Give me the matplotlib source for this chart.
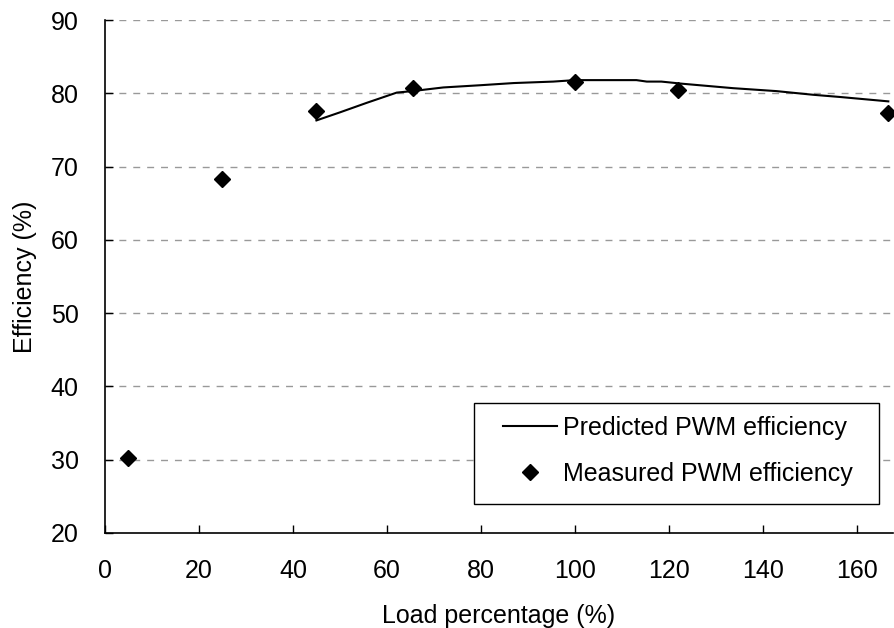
import matplotlib
matplotlib.use("Agg")
import matplotlib.pyplot as plt
import matplotlib.patches as patches

plt.rcParams['font.family'] = ['Liberation Sans', 'DejaVu Sans']

# predicted curve (load %, efficiency %)
pred_load = [45.0, 50.0, 55.7, 62.1, 65.4, 72.0, 79.8, 87.0, 95.4, 100.0,
             113.1, 115.3, 118.4, 123.0, 133.7, 142.9, 150.7, 156.4, 166.7]
pred_eff = [76.3, 77.4, 78.7, 80.1, 80.3, 80.8, 81.1, 81.4, 81.6, 81.8,
            81.8, 81.6, 81.6, 81.3, 80.7, 80.3, 79.8, 79.5, 78.9]

# measured points
meas_load = [5, 25, 45, 65.5, 100, 122, 166.7]
meas_eff = [30.2, 68.3, 77.6, 80.7, 81.5, 80.5, 77.3]

xticks = [0, 20, 40, 60, 80, 100, 120, 140, 160]
yticks = [20, 30, 40, 50, 60, 70, 80, 90]

fig = plt.figure(figsize=(8.94, 6.28), dpi=100)
ax = fig.add_axes([0.1174, 0.1513, 0.8815, 0.8168])

# grid lines
for yv in yticks[1:]:
    ax.axhline(yv, color='#999999', lw=1.0, dashes=(5, 5), zorder=0)

ax.plot(pred_load, pred_eff, color='black', lw=1.5, label='Predicted PWM efficiency')
ax.plot(meas_load, meas_eff, ls='none', marker='D', ms=8.5, color='black',
        clip_on=False, label='Measured PWM efficiency')

ax.set_xlim(0, 167.7)
ax.set_ylim(20, 90)
ax.set_xticks(xticks)
ax.set_yticks(yticks)
ax.tick_params(direction='in', length=6, width=1, labelsize=18, pad=19)
ax.spines['top'].set_visible(False)
ax.spines['right'].set_visible(False)
ax.spines['left'].set_linewidth(1.2)
ax.spines['bottom'].set_linewidth(1.2)

ax.set_xlabel('Load percentage (%)', fontsize=18, labelpad=15)
ax.set_ylabel('Efficiency (%)', fontsize=18, labelpad=10)

# legend box drawn by hand, entries placed inside it
box = patches.Rectangle((0.468, 0.057), 0.514, 0.197, transform=ax.transAxes,
                        fill=True, facecolor='white', edgecolor='black',
                        linewidth=1.0, zorder=4)
ax.add_patch(box)
leg = ax.legend(loc='upper left', bbox_to_anchor=(0.505, 0.229),
                fontsize=18, frameon=False, handlelength=2.16,
                handletextpad=0.24, borderpad=0, labelspacing=0.9,
                borderaxespad=0)
leg.set_zorder(5)

fig.savefig('out.png', dpi=100)
